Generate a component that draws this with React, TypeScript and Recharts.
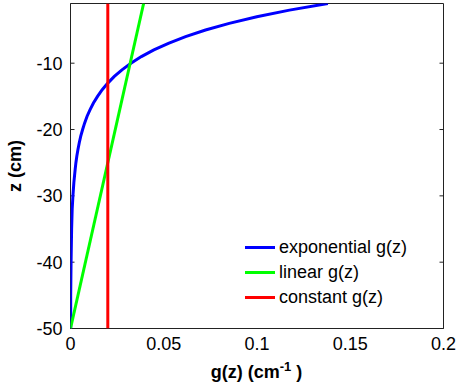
import { ScatterChart, Scatter, XAxis, YAxis, Label } from 'recharts';

// depth z (cm) and gain g(z) (1/cm)
const zExponential = [-1, -2, -3, -4, -5, -6, -7, -8, -9, -10, -11, -12, -13, -14, -15, -16, -17, -18, -19, -20, -21, -22, -23, -24, -25, -26, -28, -30, -32, -35, -40, -45, -50];
const gExponential = [0.138, 0.1174, 0.0999, 0.0851, 0.0724, 0.0617, 0.0525, 0.0447, 0.038, 0.0324, 0.0276, 0.0235, 0.02, 0.017, 0.0145, 0.0123, 0.0105, 0.0089, 0.0076, 0.0065, 0.0055, 0.0047, 0.004, 0.0034, 0.0029, 0.0025, 0.0018, 0.0013, 0.0009, 0.0006, 0.0003, 0.0001, 0.0001];
const zLinear = [-1, -50];
const gLinear = [0.0392, 0];
const zConstant = [-1, -50];
const gConstant = [0.02, 0.02];

const xTicks = [0, 0.05, 0.1, 0.15, 0.2];
const yTicks = [-50, -40, -30, -20, -10];
const seriesNames = ['exponential g(z)', 'linear g(z)', 'constant g(z)'];
const seriesColors = ['#0000ff', '#00ff00', '#ff0000'];

const toPoints = (z: number[], g: number[]) => z.map((v, i) => ({ z: v, g: g[i] }));
const series = [
  toPoints(zExponential, gExponential),
  toPoints(zLinear, gLinear),
  toPoints(zConstant, gConstant),
];

const FONT = '"Liberation Sans", Arial, sans-serif';
const tickStyle = { fontSize: 18, fill: '#000', fontFamily: FONT };
const AXIS = '#222';
const blank = () => '';

const NoDot = () => <g />;

const XTitle = () => (
  <text x={256.5} y={378} textAnchor="middle" fontFamily={FONT} fontWeight="bold" fontSize={18} fill="#000">
    g(z) (cm
    <tspan dy={-7} fontSize={13}>-1</tspan>
    <tspan dy={7}> )</tspan>
  </text>
);

const YTitle = () => (
  <text
    x={15}
    y={166}
    transform="rotate(-90, 15, 166)"
    textAnchor="middle"
    dominantBaseline="central"
    fontFamily={FONT}
    fontWeight="bold"
    fontSize={18}
    fill="#000"
  >
    z (cm)
  </text>
);

// inner tick marks on all four sides of the box (MATLAB style)
const tickAxisX = (id: string, orientation: 'top' | 'bottom') => (
  <XAxis
    xAxisId={id}
    orientation={orientation}
    type="number"
    domain={[0, 0.2]}
    ticks={xTicks}
    height={1}
    mirror
    tickSize={4}
    tickFormatter={blank}
    stroke={AXIS}
    allowDataOverflow
  />
);

const tickAxisY = (id: string, orientation: 'left' | 'right') => (
  <YAxis
    yAxisId={id}
    orientation={orientation}
    type="number"
    domain={[-50, -1]}
    ticks={yTicks}
    width={1}
    mirror
    tickSize={4}
    tickFormatter={blank}
    stroke={AXIS}
    allowDataOverflow
  />
);

export default function App() {
  return (
    <div style={{ position: 'absolute', left: 0, top: 0, width: 458, height: 386, background: '#fff' }}>
      <ScatterChart width={458} height={386} margin={{ top: 3.5, right: 14.5, bottom: 0, left: 0 }}>
        <XAxis
          xAxisId="bottom"
          dataKey="g"
          type="number"
          domain={[0, 0.2]}
          ticks={xTicks}
          height={57.5}
          tickLine={false}
          tickSize={0}
          tickMargin={9}
          tick={tickStyle}
          stroke={AXIS}
          allowDataOverflow
        >
          <Label content={<XTitle />} />
        </XAxis>
        {tickAxisX('bottomTicks', 'bottom')}
        {tickAxisX('top', 'top')}
        <YAxis
          yAxisId="left"
          dataKey="z"
          type="number"
          domain={[-50, -1]}
          ticks={yTicks}
          width={70.5}
          tickLine={false}
          tickSize={0}
          tickMargin={8}
          tick={tickStyle}
          stroke={AXIS}
          allowDataOverflow
        >
          <Label content={<YTitle />} />
        </YAxis>
        {tickAxisY('leftTicks', 'left')}
        {tickAxisY('right', 'right')}
        {series.map((data, i) => (
          <Scatter
            key={seriesNames[i]}
            name={seriesNames[i]}
            data={data}
            xAxisId="bottom"
            yAxisId="left"
            line={{ stroke: seriesColors[i], strokeWidth: 3 }}
            lineType="joint"
            shape={NoDot}
            isAnimationActive={false}
          />
        ))}
      </ScatterChart>
      <div style={{ position: 'absolute', left: 245, top: 235, fontFamily: FONT, fontSize: 18, color: '#000' }}>
        {seriesNames.map((name, i) => (
          <div key={name} style={{ display: 'flex', alignItems: 'center', height: 25, whiteSpace: 'nowrap' }}>
            <span style={{ display: 'inline-block', width: 30, height: 3, background: seriesColors[i], marginRight: 4 }} />
            <span>{name}</span>
          </div>
        ))}
      </div>
    </div>
  );
}
